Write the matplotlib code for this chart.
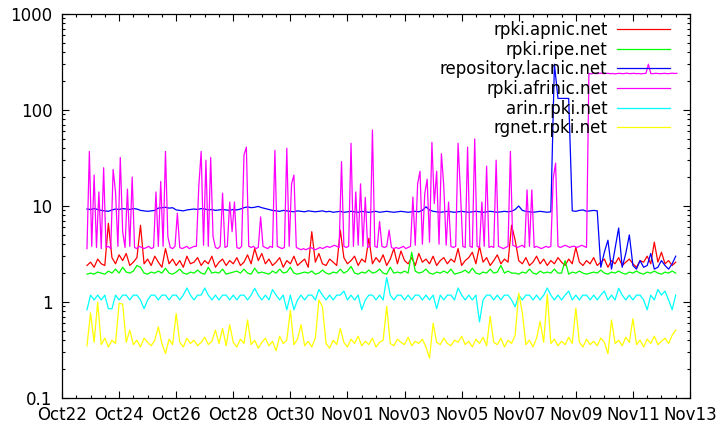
import matplotlib
matplotlib.use("Agg")
import matplotlib.pyplot as plt
import matplotlib.dates as mdates
from matplotlib.ticker import FixedLocator, LogLocator, NullFormatter
import pandas as pd

# === Data ===
# most series: 3-hourly samples; afrinic: 2-hourly (its spikes are narrow)
start = "2011-10-22 21:00"
n_samples = 166
n_afrinic = 249

apnic = [
    2.4, 2.6, 2.3, 2.8, 2.5, 2.4, 6.6, 2.9, 2.5, 3.1,
    2.7, 3.2, 2.4, 2.6, 2.9, 6.3, 2.5, 2.8, 2.4, 3.0,
    2.6, 2.3, 3.6, 2.5, 2.8, 2.4, 2.7, 2.3, 3.0, 2.5,
    2.6, 2.9, 2.4, 2.7, 2.5, 3.0, 2.3, 2.6, 2.8, 2.4,
    2.7, 2.5, 2.9, 2.4, 2.6, 3.1, 2.5, 3.6, 2.7, 3.2,
    2.5, 2.8, 2.4, 2.6, 2.9, 2.3, 2.7, 2.5, 3.0, 2.4,
    2.6, 2.8, 2.3, 5.4, 2.6, 3.2, 2.5, 2.4, 2.8, 2.6,
    2.4, 5.6, 2.9, 2.5, 2.7, 3.0, 2.4, 2.8, 2.6, 4.6,
    2.5, 2.9, 2.6, 3.1, 2.4, 2.8, 3.6, 2.5, 3.4, 2.7,
    2.5, 2.9, 2.4, 3.2, 2.6, 2.8, 2.5, 3.0, 2.4, 2.7,
    2.9, 2.5, 2.8, 2.6, 3.6, 2.4, 2.7, 2.9, 3.3, 2.5,
    3.8, 2.6, 2.9, 2.4, 2.7, 3.1, 2.5, 2.8, 2.6, 6.3,
    4.4, 2.7, 2.5, 2.9, 2.4, 2.6, 3.0, 2.5, 2.8, 2.4,
    2.7, 2.5, 2.9, 2.6, 2.4, 2.8, 2.5, 3.7, 2.6, 2.4,
    2.7, 2.5, 2.9, 2.4, 2.6, 2.8, 2.3, 2.7, 2.5, 2.9,
    2.4, 2.6, 2.8, 2.5, 2.3, 2.7, 2.6, 3.0, 2.5, 4.2,
    2.6, 3.3, 2.5, 2.7, 2.4, 2.6,
]

ripe = [
    1.95, 2.0, 1.95, 2.05, 2.0, 1.95, 2.1, 2.0, 2.2, 2.0,
    2.3, 2.05, 2.0, 2.1, 2.4, 2.3, 2.0, 1.95, 2.05, 2.0,
    2.1, 2.0, 2.25, 2.0, 1.95, 2.05, 2.2, 2.0, 1.95, 2.05,
    2.0, 2.15, 2.0, 1.95, 2.3, 2.0, 2.05, 2.0, 2.2, 1.95,
    2.0, 2.05, 2.1, 2.0, 2.2, 2.0, 1.95, 2.25, 2.0, 2.05,
    2.0, 1.95, 2.1, 2.0, 2.2, 2.0, 2.05, 2.3, 2.0, 1.95,
    2.0, 2.05, 2.0, 2.1, 1.95, 2.0, 2.15, 2.0, 1.95, 2.05,
    2.0, 2.2, 2.0, 2.1, 2.35, 2.0, 1.95, 2.05, 2.0, 2.15,
    2.0, 2.05, 2.2, 2.0, 1.95, 2.3, 2.0, 2.05, 2.0, 2.1,
    2.0, 3.3, 2.1, 2.0, 2.05, 2.2, 2.0, 1.95, 2.05, 2.0,
    2.1, 2.0, 2.2, 1.95, 2.0, 2.05, 2.15, 2.0, 2.25, 2.0,
    1.95, 2.05, 2.0, 2.2, 2.0, 2.05, 2.4, 2.0, 2.1, 2.0,
    2.0, 1.95, 2.05, 2.0, 2.2, 2.0, 1.95, 2.1, 2.0, 2.05,
    2.0, 2.2, 2.0, 2.0, 2.7, 1.95, 2.05, 2.0, 2.1, 2.0,
    1.95, 2.0, 2.05, 2.0, 2.15, 2.0, 1.95, 2.05, 2.0, 2.1,
    2.0, 1.95, 2.05, 2.0, 2.1, 2.0, 1.95, 2.05, 2.0, 2.1,
    2.0, 1.95, 2.05, 2.0, 2.1, 2.0,
]

lacnic = [
    9.3, 9.2, 9.4, 9.2, 9.0, 8.9, 8.8, 9.1, 9.3, 9.2,
    9.4, 9.3, 9.2, 9.4, 9.3, 9.0, 8.9, 8.8, 8.9, 9.0,
    9.5, 9.6, 9.7, 9.5, 9.6, 9.1, 9.0, 8.9, 9.1, 9.2,
    9.3, 9.2, 9.4, 9.3, 9.1, 9.2, 9.0, 9.1, 9.2, 9.1,
    9.0, 9.2, 9.1, 9.3, 9.6, 9.8, 9.6, 9.7, 9.9, 9.6,
    9.4, 9.2, 9.0, 8.9, 8.8, 9.0, 8.9, 8.8, 8.7, 8.9,
    8.8, 8.7, 8.9, 8.8, 8.7, 8.8, 8.9, 8.7, 8.8, 8.6,
    8.7, 8.8, 8.6, 8.7, 8.8, 8.7, 8.6, 8.8, 8.7, 8.6,
    8.7, 8.8, 8.6, 8.7, 8.8, 8.7, 8.6, 8.7, 8.8, 8.7,
    8.6, 8.7, 8.8, 8.7, 9.0, 9.8, 9.1, 8.8, 8.7, 8.6,
    8.7, 8.8, 8.7, 8.6, 8.7, 8.8, 8.7, 8.6, 8.7, 8.8,
    8.7, 8.6, 8.7, 8.8, 8.7, 8.6, 8.7, 8.8, 8.7, 8.8,
    9.2, 10.0, 9.0, 8.8, 8.7, 8.6, 8.7, 8.8, 8.7, 8.6,
    8.7, 300, 132, 132, 132, 132, 8.9, 8.8, 9.0, 9.1,
    8.8, 8.9, 9.0, 8.9, 2.3, 3.3, 4.4, 2.2, 3.6, 5.9,
    2.3, 3.2, 5.0, 2.4, 2.2, 2.7, 2.3, 2.4, 3.2, 2.2,
    2.3, 2.7, 2.4, 2.2, 2.5, 3.0,
]

afrinic = [
    3.6, 37, 3.8, 21, 3.7, 14, 3.6, 25, 3.7, 3.8,
    3.6, 24, 14, 3.8, 32, 5.4, 3.7, 15, 3.8, 20,
    3.7, 3.6, 3.8, 3.7, 3.6, 3.7, 3.8, 3.6, 3.7, 14,
    3.8, 18, 3.8, 37, 4.8, 3.7, 3.6, 3.8, 8.4, 3.7,
    3.6, 3.7, 3.8, 3.6, 3.7, 3.8, 3.8, 16, 37, 3.9,
    30, 3.8, 32, 4.8, 3.7, 3.6, 3.8, 13.6, 3.7, 3.8,
    11, 5.4, 11, 3.7, 3.6, 3.8, 34, 41, 3.8, 3.7,
    3.8, 3.6, 3.7, 7.7, 3.8, 3.7, 3.6, 3.8, 3.7, 38,
    3.8, 3.7, 3.6, 3.7, 40, 3.8, 17, 21, 3.7, 3.6,
    3.5, 3.6, 3.5, 3.6, 3.7, 3.6, 3.5, 3.6, 3.7, 3.6,
    3.7, 3.8, 3.7, 3.8, 3.9, 3.8, 3.7, 29, 3.8, 3.7,
    3.8, 45, 3.8, 14, 3.9, 17, 3.8, 12.3, 3.7, 3.8,
    62, 3.8, 3.7, 6.9, 3.8, 3.7, 3.8, 5.6, 3.7, 3.6,
    3.7, 3.6, 3.7, 3.8, 3.6, 3.7, 3.8, 12.4, 3.9, 17,
    23, 4.0, 13.5, 19, 4.2, 46, 10.6, 23, 4.0, 35,
    16, 3.9, 11, 3.8, 3.7, 3.8, 45, 14, 3.8, 3.7,
    41, 3.8, 3.7, 50, 3.8, 3.7, 11, 3.8, 26, 3.7,
    3.8, 3.7, 30, 3.8, 3.7, 3.6, 3.7, 3.8, 37, 3.9,
    3.8, 3.7, 3.8, 3.9, 3.7, 14.7, 3.8, 14.7, 3.7, 3.8,
    3.7, 3.6, 3.7, 3.8, 3.7, 3.8, 19.4, 28, 3.8, 3.7,
    3.8, 3.9, 3.8, 3.7, 3.8, 3.8, 3.7, 3.8, 3.9, 3.8,
    3.7, 240, 238, 241, 239, 240, 242, 239, 240, 241,
    239, 240, 238, 240, 241, 239, 240, 242, 239, 240,
    241, 239, 240, 238, 240, 241, 300, 240, 239, 241,
    240, 239, 240, 241, 239, 240, 242, 240, 241,
]

arin = [
    0.83, 1.18, 1.05, 1.18, 1.05, 1.18, 0.85, 0.85, 1.18, 1.05,
    1.18, 1.18, 1.05, 1.18, 1.18, 1.05, 0.85, 1.05, 1.18, 1.18,
    1.05, 1.18, 1.18, 1.05, 1.18, 1.18, 1.05, 1.18, 1.4, 1.18,
    1.05, 1.18, 1.18, 1.4, 1.18, 1.05, 1.18, 1.05, 1.18, 1.18,
    1.05, 1.18, 1.05, 1.18, 1.18, 1.05, 1.18, 1.39, 1.18, 1.05,
    1.18, 1.05, 1.35, 1.18, 1.05, 1.18, 0.83, 1.18, 0.83, 1.05,
    1.18, 1.05, 1.18, 1.18, 1.05, 1.35, 1.18, 1.05, 1.18, 1.05,
    1.18, 1.18, 1.3, 1.05, 1.18, 1.05, 1.18, 0.83, 1.05, 1.18,
    1.18, 1.05, 1.18, 1.05, 1.8, 1.18, 1.05, 1.18, 1.18, 1.05,
    1.18, 1.05, 1.18, 1.18, 1.05, 1.18, 1.05, 1.18, 0.85, 1.18,
    1.05, 1.18, 1.18, 1.05, 1.4, 1.18, 1.05, 1.18, 1.05, 1.18,
    0.62, 1.05, 1.18, 1.18, 1.05, 1.18, 1.05, 1.18, 1.18, 1.05,
    0.89, 1.18, 1.05, 1.18, 1.18, 1.05, 1.18, 1.05, 1.18, 1.4,
    1.18, 1.05, 1.18, 1.05, 1.18, 1.3, 1.05, 1.18, 1.05, 1.18,
    1.18, 1.05, 1.18, 1.05, 1.18, 1.3, 1.05, 1.18, 1.05, 1.39,
    1.18, 1.05, 1.18, 1.05, 1.18, 1.18, 1.05, 0.83, 1.18, 1.05,
    1.35, 1.18, 1.3, 1.05, 0.83, 1.18,
]

rgnet = [
    0.35, 0.77, 0.38, 1.0, 0.36, 0.42, 0.34, 0.40, 0.37, 0.97,
    0.95, 0.38, 0.51, 0.36, 0.40, 0.34, 0.42, 0.38, 0.35, 0.40,
    0.55, 0.37, 0.29, 0.41, 0.36, 0.76, 0.38, 0.34, 0.42, 0.37,
    0.40, 0.35, 0.38, 0.43, 0.36, 0.39, 0.51, 0.37, 0.53, 0.35,
    0.58, 0.38, 0.34, 0.41, 0.37, 0.65, 0.36, 0.40, 0.33, 0.38,
    0.42, 0.35, 0.39, 0.31, 0.44, 0.37, 0.40, 0.82, 0.36, 0.41,
    0.58, 0.35, 0.39, 0.34, 0.42, 1.05, 0.89, 0.37, 0.33, 0.40,
    0.36, 0.53, 0.38, 0.34, 0.41, 0.37, 0.44, 0.35, 0.39, 0.36,
    0.42, 0.34, 0.38, 0.40, 0.9, 0.37, 0.35, 0.41, 0.38, 0.36,
    0.43, 0.35, 0.39, 0.37, 0.41, 0.34, 0.26, 0.60, 0.38, 0.36,
    0.42, 0.37, 0.35, 0.40, 0.38, 0.44, 0.36, 0.39, 0.34, 0.41,
    0.37, 0.43, 0.35, 0.71, 0.38, 0.36, 0.42, 0.34, 0.40, 0.37,
    0.45, 1.24, 0.78, 0.36, 0.40, 0.34, 0.42, 0.63, 0.38, 1.2,
    0.37, 0.41, 0.35, 0.39, 0.36, 0.43, 0.37, 0.86, 0.38, 0.34,
    0.41, 0.36, 0.39, 0.35, 0.42, 0.38, 0.29, 0.65, 0.37, 0.40,
    0.35, 0.43, 0.38, 0.67, 0.36, 0.40, 0.34, 0.41, 0.37, 0.44,
    0.36, 0.39, 0.42, 0.37, 0.45, 0.51,
]

y_ticks = [0.1, 1, 10, 100, 1000]
y_labels = ["0.1", "1", "10", "100", "1000"]

times = pd.date_range(start, periods=n_samples, freq="3h")
times_afrinic = pd.date_range(start, periods=n_afrinic, freq="2h")

series = [
    ("rpki.apnic.net", times, apnic, "#ff0000"),
    ("rpki.ripe.net", times, ripe, "#00ff00"),
    ("repository.lacnic.net", times, lacnic, "#0000ff"),
    ("rpki.afrinic.net", times_afrinic, afrinic, "#ff00ff"),
    ("arin.rpki.net", times, arin, "#00ffff"),
    ("rgnet.rpki.net", times, rgnet, "#ffff00"),
]

# === Plot ===
fig = plt.figure(figsize=(7.19, 4.25), dpi=100)
ax = fig.add_axes([62 / 719, 27 / 425, 628 / 719, 384 / 425])

for name, t, vals, color in series:
    ax.plot(t, vals, color=color, lw=0.9, label=name)

ax.set_yscale("log")
ax.set_ylim(0.1, 1000)
ax.yaxis.set_major_locator(FixedLocator(y_ticks))
ax.set_yticklabels(y_labels)
ax.yaxis.set_minor_locator(LogLocator(base=10, subs=range(2, 10)))
ax.yaxis.set_minor_formatter(NullFormatter())

ax.set_xlim(pd.Timestamp("2011-10-22"), pd.Timestamp("2011-11-13"))
ax.xaxis.set_major_locator(mdates.DayLocator(interval=2))
ax.xaxis.set_major_formatter(mdates.DateFormatter("%b%d"))
ax.xaxis.set_minor_locator(mdates.HourLocator(byhour=[0, 12]))

ax.tick_params(which="both", direction="in", top=True, right=True, labelsize=12)
ax.tick_params(which="major", length=5, width=0.8)
ax.tick_params(which="minor", length=2.5, width=0.8)
ax.tick_params(axis="x", pad=6)
ax.tick_params(axis="y", pad=7)
for s in ax.spines.values():
    s.set_linewidth(0.9)

ax.legend(loc="upper right", bbox_to_anchor=(0.968, 0.982), frameon=False,
          markerfirst=False, fontsize=12, handlelength=3.2, handletextpad=0.55,
          labelspacing=0.1, borderpad=0, borderaxespad=0)

plt.savefig("out.png", dpi=100)
